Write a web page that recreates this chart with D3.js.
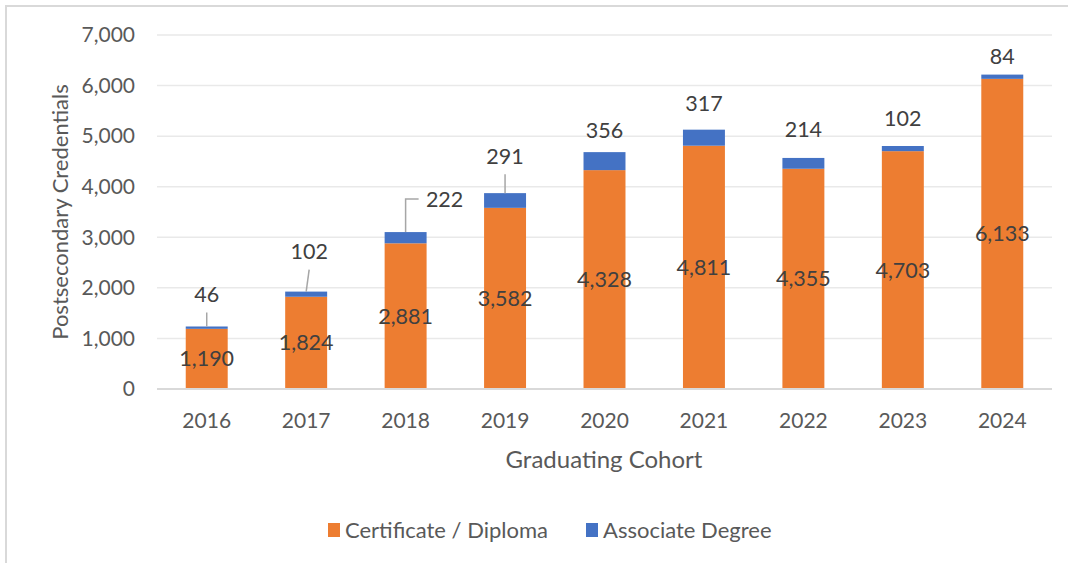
<!DOCTYPE html>
<html>
<head>
<meta charset="utf-8">
<script src="https://cdn.jsdelivr.net/npm/d3@7"></script>
<style>
  body { margin: 0; background: #fff; }
  svg { display: block; font-family: Lato, "Open Sans", sans-serif; }
</style>
</head>
<body>
<svg id="chart" width="1068" height="563"></svg>
<script>
// data
const years = ['2016', '2017', '2018', '2019', '2020', '2021', '2022', '2023', '2024'];
const certificate = [1190, 1824, 2881, 3582, 4328, 4811, 4355, 4703, 6133];
const associate = [46, 102, 222, 291, 356, 317, 214, 102, 84];
const yTicks = [0, 1000, 2000, 3000, 4000, 5000, 6000, 7000];
const seriesNames = ['Certificate / Diploma', 'Associate Degree'];

// where the associate labels were dragged to (px from bar top / band centre)
const labelLift = [32, 40, 33, 37, 22, 26, 28, 28, 18];
const labelShift = [0, 3, 39, 0, 0, 0, 0, 0, 0];
const leader = [true, true, 'elbow', true, false, false, false, false, false];

const colors = ['#ED7D31', '#4472C4'];

const svg = d3.select('#chart');
svg.append('rect').attr('width', 1068).attr('height', 563).attr('fill', '#fff');

// outer frame (only left and top edges show)
svg.append('path')
    .attr('d', 'M6,563 V6 H1068')
    .attr('fill', 'none')
    .attr('stroke', '#d9d9d9')
    .attr('stroke-width', 2);

const x = d3.scaleBand()
    .domain(years)
    .range([157, 1052])
    .paddingInner(0.578)
    .paddingOuter(0.289);

const y = d3.scaleLinear()
    .domain([0, 7000])
    .range([389, 35]);

// gridlines
svg.append('g')
    .selectAll('line')
    .data(yTicks.filter(d => d > 0))
    .join('line')
    .attr('x1', 157).attr('x2', 1052)
    .attr('y1', d => y(d)).attr('y2', d => y(d))
    .attr('stroke', '#e9e9e9')
    .attr('stroke-width', 1.5);

// y axis labels
const yAxis = svg.append('g')
    .attr('transform', 'translate(135,0)')
    .call(d3.axisLeft(y).tickValues(yTicks).tickFormat(d3.format(',')).tickSize(0).tickPadding(0));
yAxis.select('.domain').remove();
yAxis.selectAll('text')
    .attr('font-size', 21)
    .attr('font-family', 'Lato, sans-serif')
    .attr('fill', '#595959');

// stacked data
const rows = years.map((yr, i) => ({ year: yr, cert: certificate[i], assoc: associate[i], i: i }));
const stack = d3.stack().keys(['cert', 'assoc'])(rows);

svg.append('g')
    .selectAll('g')
    .data(stack)
    .join('g')
    .attr('fill', (d, i) => colors[i])
    .selectAll('rect')
    .data(d => d)
    .join('rect')
    .attr('x', d => x(d.data.year))
    .attr('width', x.bandwidth())
    .attr('y', d => y(d[1]))
    .attr('height', d => y(d[0]) - y(d[1]));

// baseline
svg.append('line')
    .attr('x1', 157).attr('x2', 1052)
    .attr('y1', y(0)).attr('y2', y(0))
    .attr('stroke', '#d9d9d9')
    .attr('stroke-width', 2);

// x axis labels
const xAxis = svg.append('g')
    .attr('transform', 'translate(0,' + y(0) + ')')
    .call(d3.axisBottom(x).tickSize(0).tickPadding(24));
xAxis.select('.domain').remove();
xAxis.selectAll('text')
    .attr('font-size', 21)
    .attr('font-family', 'Lato, sans-serif')
    .attr('fill', '#595959');

// certificate labels, centred in the orange part
svg.append('g')
    .selectAll('text')
    .data(rows)
    .join('text')
    .attr('x', d => x(d.year) + x.bandwidth() / 2)
    .attr('y', d => y(d.cert / 2))
    .attr('dy', '0.35em')
    .attr('text-anchor', 'middle')
    .attr('font-size', 21.5)
    .attr('fill', '#404040')
    .text(d => d3.format(',')(d.cert));

// associate labels with leader lines
const labelPos = rows.map(d => {
    const cx = x(d.year) + x.bandwidth() / 2;
    const top = y(d.cert + d.assoc);
    return { d: d, cx: cx, top: top, lx: cx + labelShift[d.i], ly: top - labelLift[d.i] };
});

svg.append('g')
    .selectAll('path')
    .data(labelPos.filter(p => leader[p.d.i]))
    .join('path')
    .attr('fill', 'none')
    .attr('stroke', '#a6a6a6')
    .attr('stroke-width', 1.5)
    .attr('d', p => {
        if (leader[p.d.i] === 'elbow') {
            return `M${p.cx},${p.top} V${p.ly} H${p.lx - 26}`;
        }
        return `M${p.cx},${p.top} L${p.lx},${p.ly + 18}`;
    });

svg.append('g')
    .selectAll('text')
    .data(labelPos)
    .join('text')
    .attr('x', p => p.lx)
    .attr('y', p => p.ly)
    .attr('dy', '0.35em')
    .attr('text-anchor', 'middle')
    .attr('font-size', 21.5)
    .attr('fill', '#404040')
    .text(p => d3.format(',')(p.d.assoc));

// axis titles
svg.append('text')
    .attr('transform', 'translate(60,' + (y(3500)) + ') rotate(-90)')
    .attr('text-anchor', 'middle')
    .attr('dy', '0.35em')
    .attr('font-size', 22)
    .attr('fill', '#595959')
    .text('Postsecondary Credentials');

svg.append('text')
    .attr('x', 604)
    .attr('y', 460)
    .attr('text-anchor', 'middle')
    .attr('dy', '0.35em')
    .attr('font-size', 24)
    .attr('fill', '#595959')
    .text('Graduating Cohort');

// legend
const legendX = [328, 586];
const legend = svg.append('g')
    .selectAll('g')
    .data(seriesNames)
    .join('g')
    .attr('transform', (d, i) => 'translate(' + legendX[i] + ',530)');
legend.append('rect')
    .attr('x', 0).attr('y', -7)
    .attr('width', 12).attr('height', 14)
    .attr('fill', (d, i) => colors[i]);
legend.append('text')
    .attr('x', 17)
    .attr('dy', '0.35em')
    .attr('font-size', 22)
    .attr('fill', '#595959')
    .text(d => d);
</script>
</body>
</html>
